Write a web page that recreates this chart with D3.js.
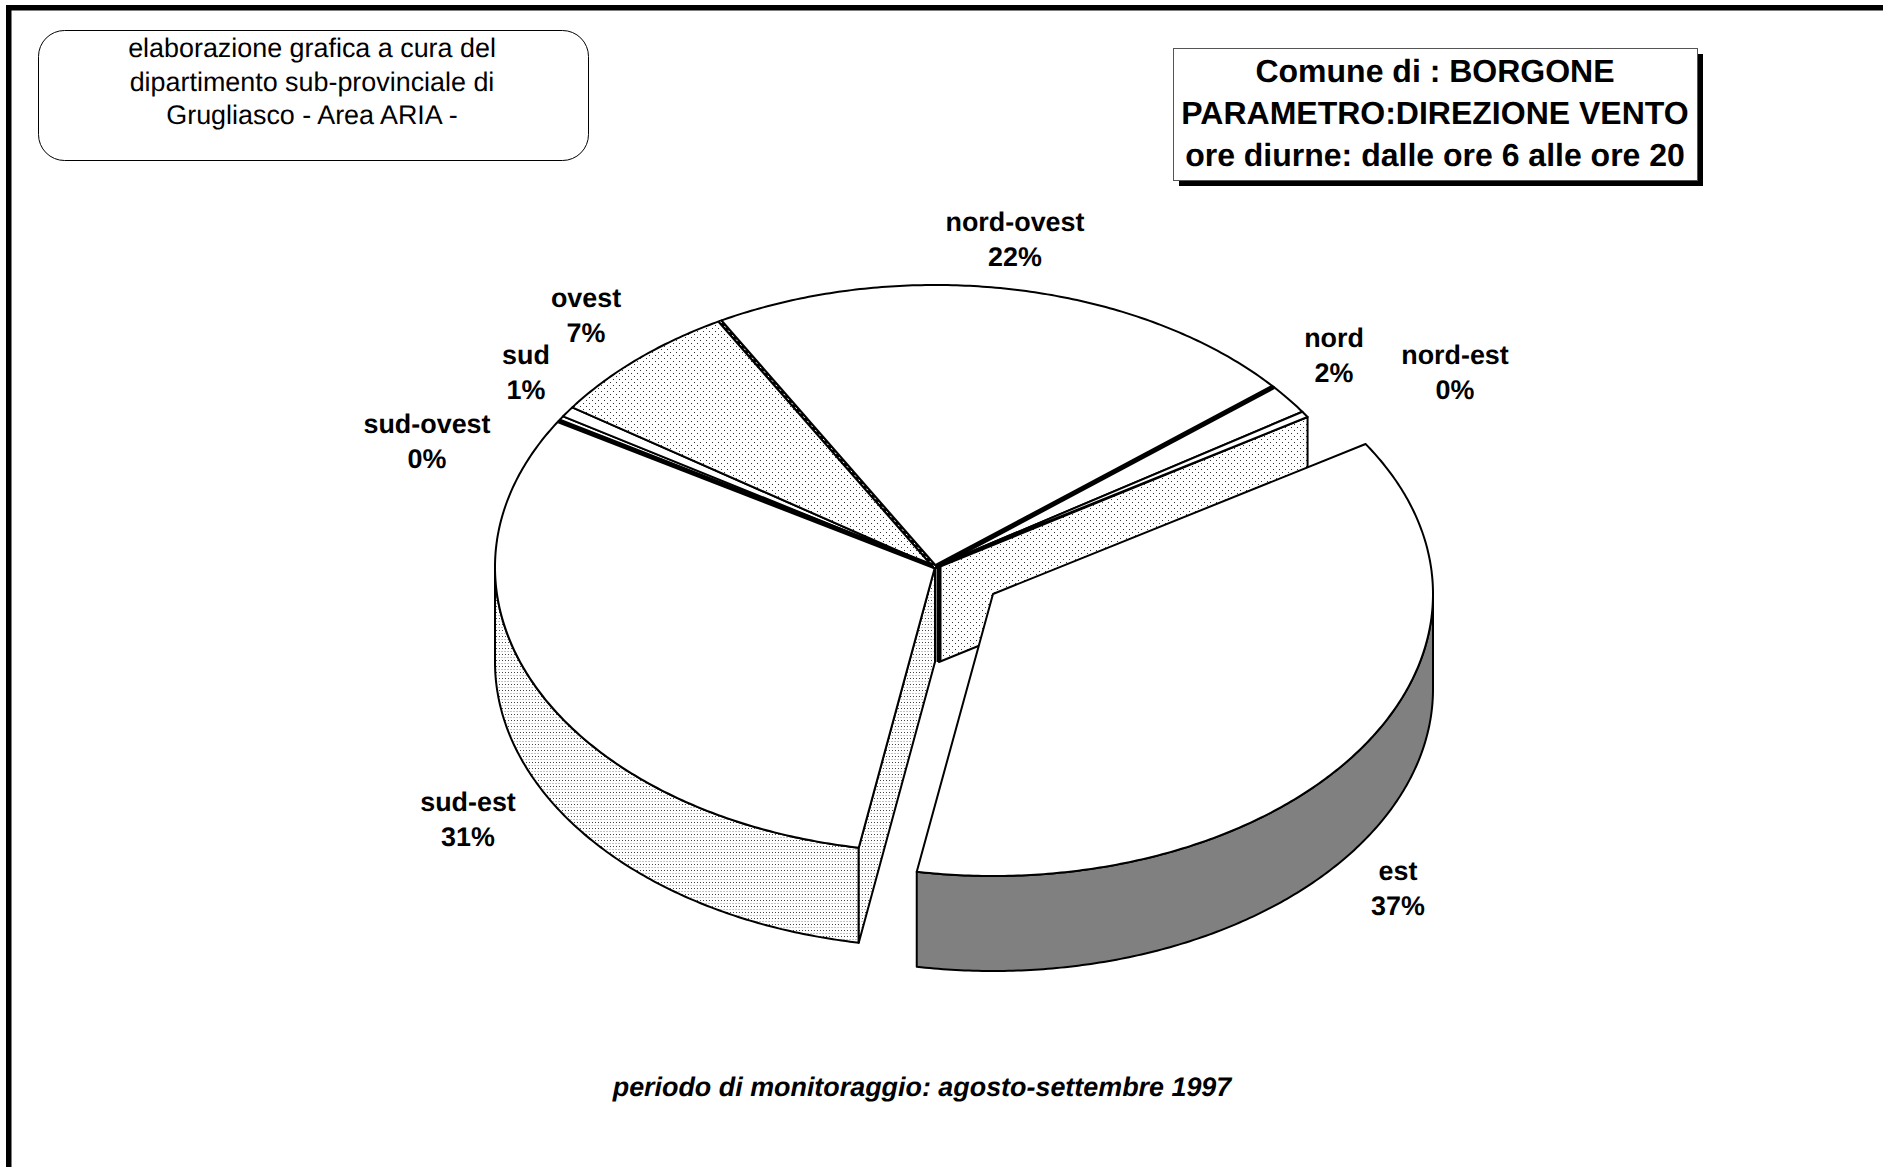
<!DOCTYPE html>
<html>
<head>
<meta charset="utf-8">
<title>Direzione vento - Borgone</title>
<script src="https://cdn.jsdelivr.net/npm/d3@7"></script>
<style>
  html, body { margin: 0; padding: 0; background: #fff; }
  svg { display: block; }
  text { font-family: "Liberation Sans", Arial, sans-serif; fill: #000; text-rendering: geometricPrecision; }
</style>
</head>
<body>
<svg id="chart" width="1883" height="1167"></svg>
<script>
// Wind direction shares, clockwise from the first slice
const directions = ["nord", "nord-est", "est", "sud-est", "sud-ovest", "sud", "ovest", "nord-ovest"];
const shares = [1.75, 0.35, 36.7, 30.9, 0.3, 0.6, 7.3, 22.1];

const creditLines = ["elaborazione grafica a cura del", "dipartimento sub-provinciale di", "Grugliasco - Area ARIA -"];
const titleLines = ["Comune di : BORGONE", "PARAMETRO:DIREZIONE VENTO", "ore diurne: dalle ore 6 alle ore 20"];
const footnote = "periodo di monitoraggio: agosto-settembre 1997";

// Layout of the tilted pie; the near half of the fixed part is slightly larger than its far half
const pieCentre = { x: 935, y: 567 };
const explodeOffset = { x: 58, y: 27 };
const radiusX = 440, radiusYFar = 282, radiusYNear = 285, depth = 95;
const firstSliceAngle = 50.3 * Math.PI / 180;

// Label anchors (horizontal centre, first-line middle)
const labelAnchors = {
  "nord": [1334, 338], "nord-est": [1455, 355], "est": [1398, 871], "sud-est": [468, 802],
  "sud-ovest": [427, 424], "sud": [526, 355], "ovest": [586, 298], "nord-ovest": [1015, 222]
};

const svg = d3.select("#chart");
const defs = svg.append("defs");

// Staggered dot screen used on the top face and the inner wall
const dots = defs.append("pattern").attr("id", "dots").attr("patternUnits", "userSpaceOnUse")
  .attr("width", 6).attr("height", 6);
dots.append("rect").attr("width", 6).attr("height", 6).attr("fill", "#fff");
dots.append("rect").attr("x", 1).attr("y", 1).attr("width", 1).attr("height", 1).attr("fill", "#333");
dots.append("rect").attr("x", 4).attr("y", 4).attr("width", 1).attr("height", 1).attr("fill", "#333");

// Denser screen on the side walls: dark dot rows alternating with faint rows
const wallDots = defs.append("pattern").attr("id", "wallDots").attr("patternUnits", "userSpaceOnUse")
  .attr("width", 3).attr("height", 6);
wallDots.append("rect").attr("width", 3).attr("height", 6).attr("fill", "#fff");
wallDots.append("rect").attr("x", 1).attr("y", 0).attr("width", 1).attr("height", 1).attr("fill", "#444");
wallDots.append("rect").attr("x", 0).attr("y", 3).attr("width", 2).attr("height", 1).attr("fill", "#c4c4c4");

// Page frame: heavy rules along the top and left only
svg.append("rect").attr("x", 6).attr("y", 5).attr("width", 1877).attr("height", 5.5).attr("fill", "#000");
svg.append("rect").attr("x", 6).attr("y", 5).attr("width", 5.5).attr("height", 1162).attr("fill", "#000");

// Credit box
svg.append("rect").attr("x", 38.5).attr("y", 30.5).attr("width", 550).attr("height", 130)
  .attr("rx", 26).attr("ry", 26).attr("fill", "#fff").attr("stroke", "#000").attr("stroke-width", 1);
svg.append("g").selectAll("text").data(creditLines).join("text")
  .attr("x", 312).attr("y", (d, i) => 57 + i * 33.5)
  .attr("text-anchor", "middle").attr("font-size", 26.9).text(d => d);

// Title box with its drop shadow
svg.append("rect").attr("x", 1179).attr("y", 54).attr("width", 524).attr("height", 132).attr("fill", "#000");
svg.append("rect").attr("x", 1173.5).attr("y", 48.5).attr("width", 524).attr("height", 132)
  .attr("fill", "#fff").attr("stroke", "#555").attr("stroke-width", 1);
svg.append("g").selectAll("text").data(titleLines).join("text")
  .attr("x", 1435).attr("y", (d, i) => 82 + i * 42)
  .attr("text-anchor", "middle").attr("font-size", 32).attr("font-weight", "bold").text(d => d);

// Slice angles come from the pie layout, measured clockwise from twelve o'clock
const slices = d3.pie().sort(null).value(d => d.share)
  .startAngle(firstSliceAngle).endAngle(firstSliceAngle + 2 * Math.PI)(
    directions.map((name, i) => ({ name, share: shares[i] })));
const sliceOf = Object.fromEntries(slices.map(s => [s.data.name, s]));

// Unit-circle to screen projection for a given centre and near-side radius
const projector = (c, nearRadius) => {
  const x = d3.scaleLinear().domain([-1, 1]).range([c.x - radiusX, c.x + radiusX]);
  const y = d3.scaleLinear().domain([-1, 0, 1]).range([c.y - radiusYFar, c.y, c.y + nearRadius]);
  return (a, drop = 0) => [x(Math.sin(a)), y(-Math.cos(a)) + drop];
};
const line = d3.line();
const arcPoints = (project, a0, a1, drop = 0) => {
  const n = Math.max(2, Math.ceil(Math.abs(a1 - a0) / 0.01));
  return d3.range(n + 1).map(i => project(a0 + (a1 - a0) * i / n, drop));
};
const closed = pts => line(pts) + "Z";

const mainProject = projector(pieCentre, radiusYNear);
const explodedCentre = { x: pieCentre.x + explodeOffset.x, y: pieCentre.y + explodeOffset.y };
const explodedProject = projector(explodedCentre, radiusYFar);
const outline = sel => sel.attr("stroke", "#000").attr("stroke-width", 2).attr("stroke-linejoin", "round");

const body = svg.append("g");

// Outer wall of the sud-est slice, visible down to the left extreme
const sudEst = sliceOf["sud-est"];
const leftExtreme = 1.5 * Math.PI;
const wallTop = arcPoints(mainProject, sudEst.startAngle, leftExtreme);
const wallBottom = arcPoints(mainProject, leftExtreme, sudEst.startAngle, depth);
outline(body.append("path").attr("d", closed(wallTop.concat(wallBottom))).attr("fill", "url(#wallDots)"));

// Cut wall of sud-est, exposed by the detached slice
const tipSE = mainProject(sudEst.startAngle);
outline(body.append("path")
  .attr("d", closed([[pieCentre.x, pieCentre.y], tipSE, [tipSE[0], tipSE[1] + depth], [pieCentre.x, pieCentre.y + depth]]))
  .attr("fill", "url(#wallDots)"));

// Cut wall of nord-est on the other side of the gap
const tipNE = mainProject(sliceOf["nord-est"].endAngle);
const wallX = pieCentre.x + 4;
outline(body.append("path")
  .attr("d", closed([[wallX, pieCentre.y], tipNE, [tipNE[0], tipNE[1] + depth], [wallX, pieCentre.y + depth]]))
  .attr("fill", "url(#dots)"));
body.append("line").attr("x1", wallX).attr("x2", wallX).attr("y1", pieCentre.y).attr("y2", pieCentre.y + depth)
  .attr("stroke", "#000").attr("stroke-width", 5);

// Top faces of the slices that stay in place
const wedge = (project, centre, s) =>
  closed([[centre.x, centre.y]].concat(arcPoints(project, s.startAngle, s.endAngle)));
outline(body.append("g").selectAll("path").data(slices.filter(s => s.data.name !== "est")).join("path")
  .attr("d", s => wedge(mainProject, pieCentre, s))
  .attr("fill", s => s.data.name === "ovest" ? "url(#dots)" : "#fff"));

// Heavier spokes where slices meet
const spoke = (angle, width) => {
  const tip = mainProject(angle);
  body.append("line").attr("x1", pieCentre.x).attr("y1", pieCentre.y).attr("x2", tip[0]).attr("y2", tip[1])
    .attr("stroke", "#000").attr("stroke-width", width);
  return tip;
};
spoke(sliceOf["nord"].startAngle, 5);
spoke(sliceOf["sud-ovest"].startAngle, 5);
const ovestTip = spoke(sliceOf["ovest"].endAngle, 5);
body.append("line").attr("x1", pieCentre.x).attr("y1", pieCentre.y).attr("x2", ovestTip[0]).attr("y2", ovestTip[1])
  .attr("stroke", "#fff").attr("stroke-width", 1).attr("stroke-dasharray", "2 4");

// Detached est slice: outer wall in grey, then its top face
const est = sliceOf["est"];
const rightExtreme = Math.PI / 2;
outline(body.append("path")
  .attr("d", closed(arcPoints(explodedProject, rightExtreme, est.endAngle)
    .concat(arcPoints(explodedProject, est.endAngle, rightExtreme, depth))))
  .attr("fill", "#808080"));
outline(body.append("path").attr("d", wedge(explodedProject, explodedCentre, est)).attr("fill", "#fff"));

// Slice labels: name over rounded share
const labels = svg.append("g").selectAll("g").data(slices).join("g")
  .attr("font-size", 26.9).attr("font-weight", "bold").attr("text-anchor", "middle");
labels.append("text").attr("x", d => labelAnchors[d.data.name][0]).attr("y", d => labelAnchors[d.data.name][1] + 9)
  .text(d => d.data.name);
labels.append("text").attr("x", d => labelAnchors[d.data.name][0]).attr("y", d => labelAnchors[d.data.name][1] + 44)
  .text(d => Math.round(d.data.share) + "%");

// Monitoring period note
svg.append("text").attr("x", 922).attr("y", 1096).attr("text-anchor", "middle")
  .attr("font-size", 26.9).attr("font-weight", "bold").attr("font-style", "italic").text(footnote);
</script>
</body>
</html>
